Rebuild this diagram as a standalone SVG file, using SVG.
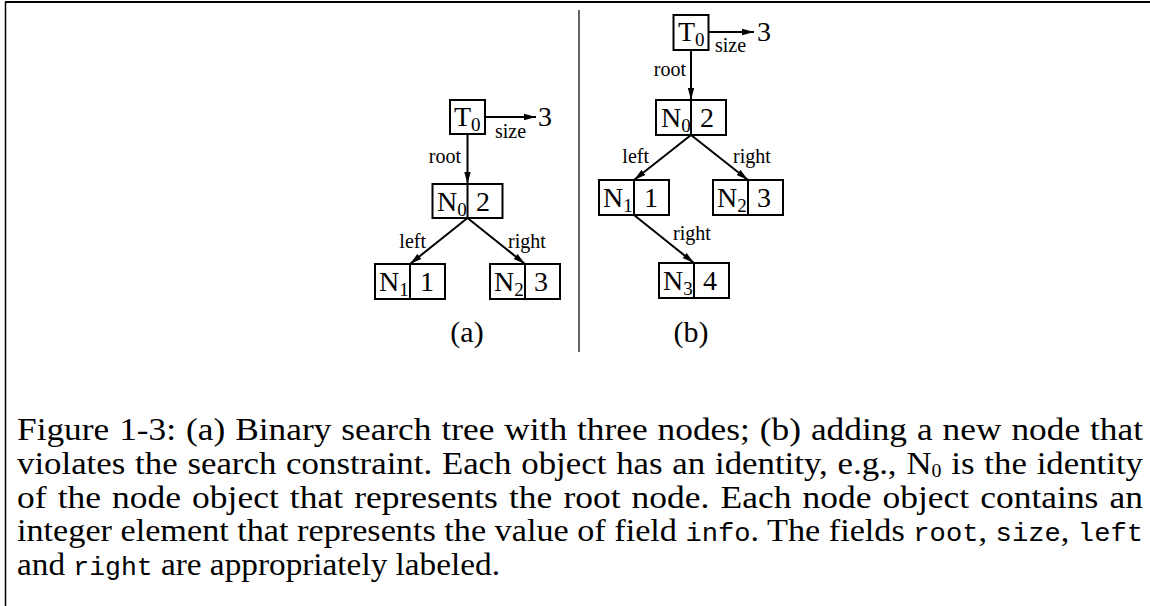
<svg xmlns="http://www.w3.org/2000/svg" width="1150" height="606" viewBox="0 0 1150 606">
<style>
  .box { fill: none; stroke: #000; stroke-width: 2; }
  .edge { stroke: #000; stroke-width: 2; fill: none; }
  .id { font-family: "Liberation Serif", "Times New Roman", serif; font-size: 28px; fill: #000; }
  .sub { font-size: 19px; }
  .lbl { font-family: "Liberation Serif", "Times New Roman", serif; font-size: 20px; fill: #000; }
  .cap { font-family: "Liberation Serif", "Times New Roman", serif; font-size: 31.5px; fill: #000; }
  .tt { font-family: "Liberation Mono", "Courier New", monospace; font-size: 25px; }
  .capsub { font-size: 18px; }
  .ab { font-family: "Liberation Serif", "Times New Roman", serif; font-size: 30px; fill: #000; }
</style>
<defs>
  <marker id="arr" markerUnits="userSpaceOnUse" markerWidth="12" markerHeight="8" refX="12" refY="4" orient="auto">
    <path d="M0,0.8 L12,4 L0,7.2 Z" fill="#000"/>
  </marker>
</defs>
<rect width="1150" height="606" fill="#fff"/>
<g id="frame">
  <line x1="5" y1="2" x2="1150" y2="2" stroke="#000" stroke-width="2"/>
  <line x1="5.5" y1="2" x2="5.5" y2="606" stroke="#000" stroke-width="1.5"/>
  <line x1="579" y1="10" x2="579" y2="352" stroke="#333" stroke-width="1.5"/>
</g>
<g id="connectors">
  <line class="edge" x1="484.5" y1="117" x2="536" y2="117" marker-end="url(#arr)"/>
  <line class="edge" x1="467.5" y1="134" x2="467.5" y2="184" marker-end="url(#arr)"/>
  <line class="edge" x1="467.5" y1="218" x2="410" y2="264" marker-end="url(#arr)"/>
  <line class="edge" x1="467.5" y1="218" x2="525" y2="264" marker-end="url(#arr)"/>
  <line class="edge" x1="709" y1="32" x2="754" y2="32" marker-end="url(#arr)"/>
  <line class="edge" x1="691" y1="50" x2="691" y2="100" marker-end="url(#arr)"/>
  <line class="edge" x1="691" y1="135" x2="634" y2="180" marker-end="url(#arr)"/>
  <line class="edge" x1="691" y1="135" x2="748" y2="180" marker-end="url(#arr)"/>
  <line class="edge" x1="634" y1="215" x2="694" y2="263" marker-end="url(#arr)"/>
</g>
<g id="labels">
  <text class="lbl" x="495" y="138">size</text>
  <text class="lbl" x="461" y="163" text-anchor="end">root</text>
  <text class="lbl" x="426" y="248" text-anchor="end">left</text>
  <text class="lbl" x="508" y="248">right</text>
  <text class="id" x="538" y="126">3</text>
  <text class="lbl" x="715" y="52">size</text>
  <text class="lbl" x="686" y="76" text-anchor="end">root</text>
  <text class="lbl" x="649" y="163" text-anchor="end">left</text>
  <text class="lbl" x="733" y="163">right</text>
  <text class="lbl" x="673" y="240">right</text>
  <text class="id" x="757" y="41">3</text>
  <text class="ab" x="467" y="342" text-anchor="middle">(a)</text>
  <text class="ab" x="691" y="342" text-anchor="middle">(b)</text>
</g>
<g id="a-T0">
  <rect class="box" x="450" y="100" width="35" height="34"/>
  <text class="id" x="454" y="126">T<tspan class="sub" dy="5">0</tspan></text>
</g>
<g id="a-N0">
  <rect class="box" x="432.5" y="184" width="70" height="34"/>
  <line class="box" x1="467.5" y1="184" x2="467.5" y2="218"/>
  <text class="id" x="437" y="211">N<tspan class="sub" dy="5">0</tspan></text>
  <text class="id" x="476" y="211">2</text>
</g>
<g id="a-N1">
  <rect class="box" x="375" y="264" width="70" height="35"/>
  <line class="box" x1="410" y1="264" x2="410" y2="299"/>
  <text class="id" x="379" y="291">N<tspan class="sub" dy="5">1</tspan></text>
  <text class="id" x="420" y="291">1</text>
</g>
<g id="a-N2">
  <rect class="box" x="490" y="264" width="70" height="35"/>
  <line class="box" x1="525" y1="264" x2="525" y2="299"/>
  <text class="id" x="494" y="291">N<tspan class="sub" dy="5">2</tspan></text>
  <text class="id" x="534" y="291">3</text>
</g>
<g id="b-T0">
  <rect class="box" x="673.5" y="15" width="35" height="35"/>
  <text class="id" x="678" y="41">T<tspan class="sub" dy="5">0</tspan></text>
</g>
<g id="b-N0">
  <rect class="box" x="656" y="100" width="70" height="35"/>
  <line class="box" x1="691" y1="100" x2="691" y2="135"/>
  <text class="id" x="661" y="127">N<tspan class="sub" dy="5">0</tspan></text>
  <text class="id" x="700" y="127">2</text>
</g>
<g id="b-N1">
  <rect class="box" x="599" y="180" width="70" height="35"/>
  <line class="box" x1="634" y1="180" x2="634" y2="215"/>
  <text class="id" x="603" y="207">N<tspan class="sub" dy="5">1</tspan></text>
  <text class="id" x="644" y="207">1</text>
</g>
<g id="b-N2">
  <rect class="box" x="713" y="180" width="70" height="35"/>
  <line class="box" x1="748" y1="180" x2="748" y2="215"/>
  <text class="id" x="717" y="207">N<tspan class="sub" dy="5">2</tspan></text>
  <text class="id" x="757" y="207">3</text>
</g>
<g id="b-N3">
  <rect class="box" x="659" y="263" width="70" height="35"/>
  <line class="box" x1="694" y1="263" x2="694" y2="298"/>
  <text class="id" x="663" y="290">N<tspan class="sub" dy="5">3</tspan></text>
  <text class="id" x="703" y="290">4</text>
</g>
<g id="caption">
  <text class="cap" x="17" y="440" word-spacing="1" textLength="1126" lengthAdjust="spacingAndGlyphs">Figure 1-3: (a) Binary search tree with three nodes; (b) adding a new node that</text>
  <text class="cap" x="17" y="474" word-spacing="1" textLength="1126" lengthAdjust="spacingAndGlyphs">violates the search constraint. Each object has an identity, e.g., N<tspan class="capsub" dy="3">0</tspan><tspan dy="-3"> is the identity</tspan></text>
  <text class="cap" x="17" y="507.5" word-spacing="2" textLength="1126" lengthAdjust="spacingAndGlyphs">of the node object that represents the root node. Each node object contains an</text>
  <text class="cap" x="17" y="541" word-spacing="0" textLength="1126" lengthAdjust="spacingAndGlyphs">integer element that represents the value of field <tspan class="tt">info</tspan>. The fields <tspan class="tt">root</tspan>, <tspan class="tt">size</tspan>, <tspan class="tt">left</tspan></text>
  <text class="cap" x="17" y="575" textLength="483" lengthAdjust="spacingAndGlyphs">and <tspan class="tt">right</tspan> are appropriately labeled.</text>
</g>
</svg>
